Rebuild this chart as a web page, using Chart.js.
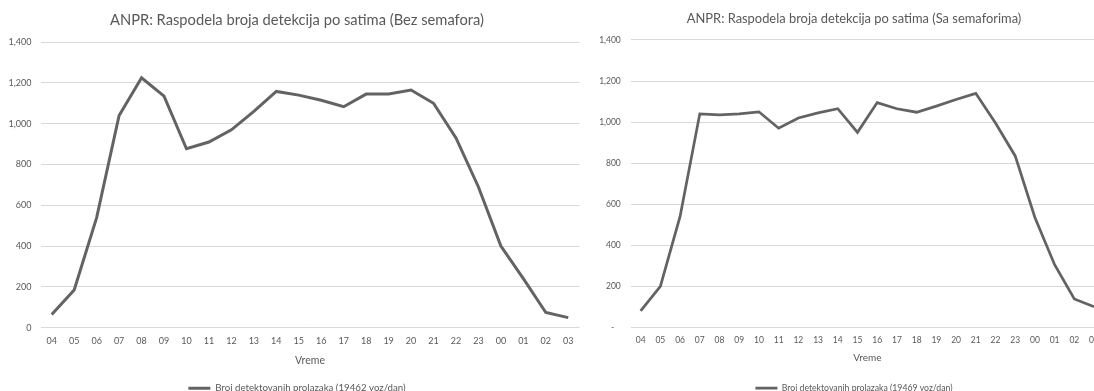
<!DOCTYPE html>
<html><head><meta charset="utf-8">
<script src="https://cdn.jsdelivr.net/npm/chart.js@4.4.1/dist/chart.umd.min.js"></script>
<style>
html,body{margin:0;padding:0;background:#fff;width:1094px;height:391px;overflow:hidden;position:relative}
#c1{position:absolute;left:0;top:0}
#c2{position:absolute;left:590px;top:0}
</style></head><body>
<canvas id="c1" width="594" height="391"></canvas>
<canvas id="c2" width="528" height="391"></canvas>
<script>
const hours = ['04','05','06','07','08','09','10','11','12','13','14','15','16','17','18','19','20','21','22','23','00','01','02','03'];
const bezSemafora = [65,185,540,1040,1225,1135,877,910,970,1060,1158,1140,1115,1083,1145,1145,1165,1100,930,690,400,241,75,50];
const saSemaforima = [80,200,540,1040,1035,1040,1050,970,1020,1045,1065,950,1095,1065,1048,1078,1110,1140,995,835,535,305,138,100];
const yTicks = [0,200,400,600,800,1000,1200,1400];
const title1 = 'ANPR: Raspodela broja detekcija po satima (Bez semafora)';
const title2 = 'ANPR: Raspodela broja detekcija po satima (Sa semaforima)';
const legend1 = 'Broj detektovanih prolazaka (19462 voz/dan)';
const legend2 = 'Broj detektovanih prolazaka (19469 voz/dan)';
const xTitle = 'Vreme';

const FONT = 'Lato, "Open Sans", sans-serif';
const TXT = '#595959';

function makeChart(id, titleText, legendText, values, cfg) {
  return new Chart(document.getElementById(id), {
    type: 'line',
    data: {
      labels: hours,
      datasets: [{
        label: legendText,
        data: values,
        borderColor: '#636363',
        backgroundColor: '#636363',
        borderWidth: cfg.lw,
        pointRadius: 0,
        tension: 0,
        fill: false
      }]
    },
    options: {
      responsive: false,
      animation: false,
      devicePixelRatio: 1,
      layout: { padding: { top: 0, left: 0, right: 0, bottom: cfg.pbot } },
      plugins: {
        title: {
          display: true, text: titleText, color: TXT,
          font: { family: FONT, size: cfg.titleSize, weight: 'normal' },
          padding: { top: cfg.titlePt, bottom: cfg.titlePb }
        },
        legend: {
          display: true, position: 'bottom',
          labels: {
            color: TXT, usePointStyle: true, pointStyle: 'line', pointStyleWidth: 22,
            font: { family: FONT, size: cfg.legendSize }, padding: 4
          }
        },
        tooltip: { enabled: false }
      },
      scales: {
        x: {
          type: 'category',
          offset: true,
          grid: { display: false },
          border: { display: false },
          ticks: { color: TXT, font: { family: FONT, size: cfg.tickSize }, padding: cfg.xTickPad, maxRotation: 0, autoSkip: false },
          title: { display: true, text: xTitle, color: TXT, font: { family: FONT, size: cfg.xTitleSize }, padding: { top: 0, bottom: cfg.xTitlePb } },
          afterFit(s) { s.height = cfg.xh; }
        },
        y: {
          min: 0, max: 1400,
          afterBuildTicks(s) { s.ticks = yTicks.map(v => ({ value: v })); },
          grid: { color: '#d9d9d9', lineWidth: 1, drawTicks: false },
          border: { display: false },
          ticks: {
            color: TXT, font: { family: FONT, size: cfg.tickSize }, padding: cfg.yTickPad,
            callback(v) { return (v === 0 && cfg.dashZero) ? '-   ' : v.toLocaleString('en-US'); }
          },
          afterFit(s) { s.width = cfg.yw; }
        },
        yR: {
          position: 'right', display: true,
          grid: { display: false }, border: { display: false }, ticks: { display: false },
          afterFit(s) { s.width = cfg.rightPad; }
        }
      }
    }
  });
}

makeChart('c1', title1, legend1, bezSemafora, {
  lw: 3, pbot: -12, titleSize: 14.7, titlePt: 11.1, titlePb: 13.3,
  legendSize: 9.7, tickSize: 9, xTickPad: 0, xTitleSize: 10.5, xTitlePb: 12.5,
  xh: 51.5, yw: 40.5, yTickPad: 9, rightPad: 14.5, dashZero: false
});
makeChart('c2', title2, legend2, saSemaforima, {
  lw: 2.75, pbot: -11.5, titleSize: 12.9, titlePt: 11.2, titlePb: 13.3,
  legendSize: 8.7, tickSize: 8.5, xTickPad: 0, xTitleSize: 10, xTitlePb: 16.3,
  xh: 52.5, yw: 40.8, yTickPad: 10, rightPad: 14.1, dashZero: true
});
</script>
</body></html>
